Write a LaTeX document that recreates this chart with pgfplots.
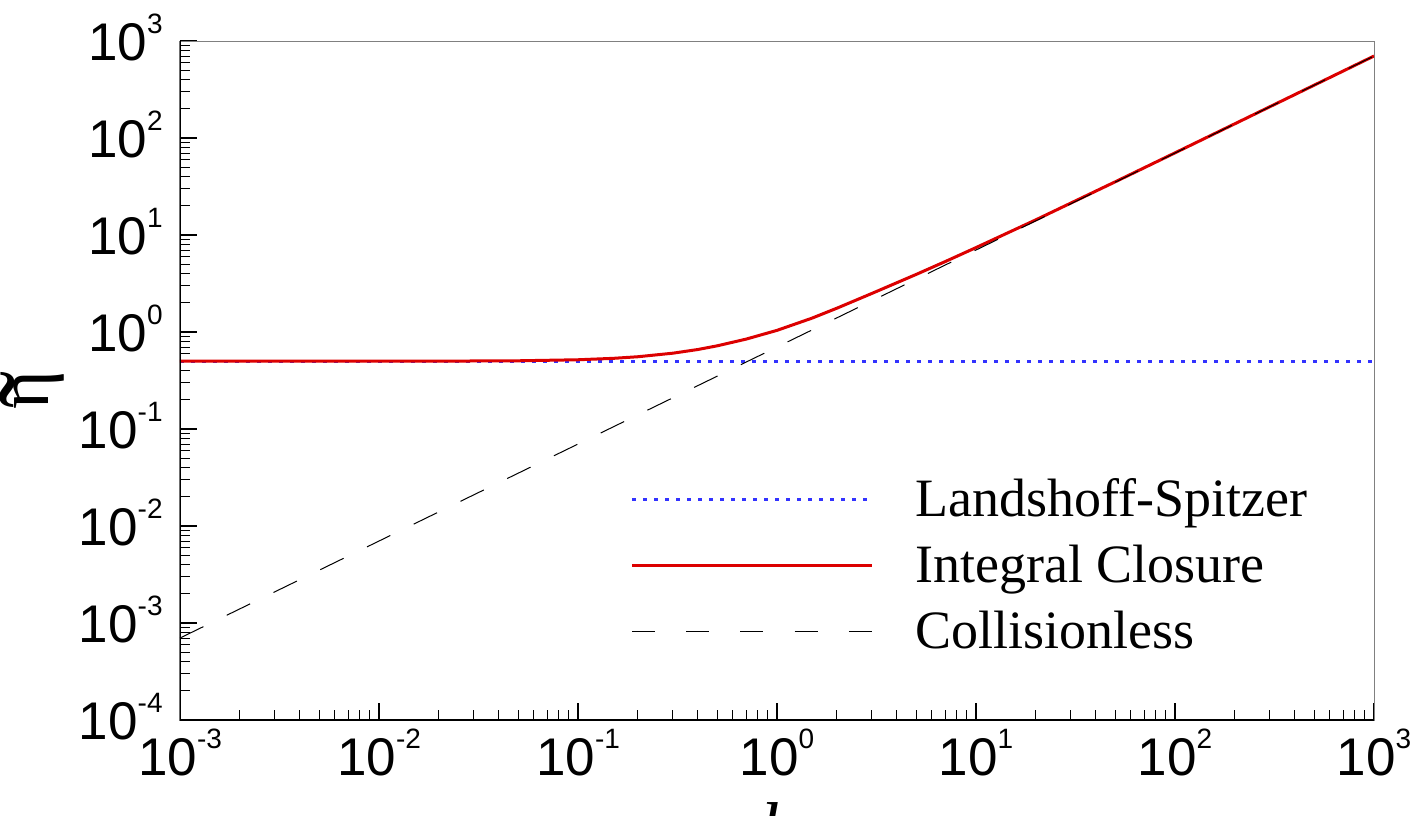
\documentclass[border=0pt]{standalone}
\usepackage{fontspec}
\usepackage{graphicx}
\setmainfont{Liberation Serif}
\newfontfamily\ticksf{Liberation Sans}
\usepackage{pgfplots}
\pgfplotsset{compat=1.18}
\definecolor{myred}{RGB}{220,0,0}
\definecolor{myblue}{RGB}{50,50,255}
\newcommand\tl[1]{{\ticksf\fontsize{26.5}{30}\selectfont 10\raisebox{13.5pt}{\fontsize{14}{16}\selectfont #1}}}
\newcommand\etatilde{\ooalign{η\cr\hidewidth\raisebox{-0.42em}{\scalebox{1.5}[1.6]{˜}}\hidewidth\cr}}
\begin{document}
\begin{tikzpicture}
\useasboundingbox (0,0) rectangle (708pt,407.5pt);
\begin{axis}[
  at={(90pt,47.5pt)}, anchor=south west,
  width=597pt, height=339.5pt, scale only axis,
  xmode=log, ymode=log,
  xmin=1e-3, xmax=1e3, ymin=1e-4, ymax=1e3,
  xtick={1e-3,1e-2,1e-1,1e0,1e1,1e2,1e3},
  xticklabels={\tl{-3},\tl{-2},\tl{-1},\tl{0},\tl{1},\tl{2},\tl{3}},
  ytick={1e-4,1e-3,1e-2,1e-1,1e0,1e1,1e2,1e3},
  yticklabels={\tl{-4},\tl{-3},\tl{-2},\tl{-1},\tl{0},\tl{1},\tl{2},\tl{3}},
  minor xtick={2e-3,3e-3,4e-3,5e-3,6e-3,7e-3,8e-3,9e-3,2e-2,3e-2,4e-2,5e-2,6e-2,7e-2,8e-2,9e-2,0.2,0.3,0.4,0.5,0.6,0.7,0.8,0.9,2,3,4,5,6,7,8,9,20,30,40,50,60,70,80,90,200,300,400,500,600,700,800,900},
  minor ytick={2e-4,3e-4,4e-4,5e-4,6e-4,7e-4,8e-4,9e-4,2e-3,3e-3,4e-3,5e-3,6e-3,7e-3,8e-3,9e-3,2e-2,3e-2,4e-2,5e-2,6e-2,7e-2,8e-2,9e-2,0.2,0.3,0.4,0.5,0.6,0.7,0.8,0.9,2,3,4,5,6,7,8,9,20,30,40,50,60,70,80,90,200,300,400,500,600,700,800,900},
  tick pos=left,
  tick align=inside,
  major tick length=8.5pt, minor tick length=5pt,
  every major tick/.append style={line width=1pt, black},
  every minor tick/.append style={line width=0.5pt, black},
  axis line style={line width=0.5pt, gray},
  xticklabel style={anchor=base, yshift=-27.5pt, inner sep=0pt},
  yticklabel style={anchor=base east, xshift=-8.5pt, yshift=-9.5pt, inner sep=0pt},
  xlabel={\itshape k},
  xlabel style={at={(axis description cs:0.5,0)}, anchor=north, yshift=-41pt, inner sep=0pt, font=\fontsize{36}{40}\selectfont},
  ylabel={\etatilde},
  ylabel style={at={(axis description cs:-0.112,0.486)}, anchor=center, inner sep=0pt, font=\fontsize{37}{40}\selectfont},
  legend image code/.code={\draw[#1] (0pt,0pt) -- (120pt,0pt);},
  legend cell align=left,
  legend style={draw=none, fill=none, at={(axis description cs:0.377,0.362)}, anchor=north west,
    inner sep=0pt, row sep=8pt, column sep=0pt,
    /tikz/every odd column/.append style={column sep=21pt},
    font=\fontsize{27}{30}\selectfont,
    nodes={inner sep=0pt, text height=21pt, text depth=4pt}},
]
\addplot[myblue, line width=1.5pt, dash pattern=on 2pt off 3.5pt] coordinates {(1e-3,0.5) (1e3,0.5)};
\addlegendentry{Landshoff-Spitzer}
\addplot[myred, line width=1.5pt] coordinates {
(0.001,0.5000) (0.003,0.5000) (0.01,0.5002) (0.02,0.5009) (0.05,0.505) (0.1,0.5175) (0.15,0.535) (0.2,0.556) (0.3,0.605) (0.4,0.66) (0.5,0.72) (0.7,0.845) (1.0,1.04) (1.5,1.39) (2,1.76) (3,2.50) (5,3.92) (7,5.32) (10,7.42) (20,14.35) (50,35.3) (100,70.3) (200,140.3) (500,350.3) (1000,700.3)};
\addlegendentry{Integral Closure}
\addplot[black, line width=0.5pt, dash pattern=on 13pt off 13pt,
  legend image code/.code={\draw[black, line width=0.5pt, dash pattern=on 11.5pt off 15.6pt] (0pt,0pt) -- (120pt,0pt);}]
  coordinates {(1e-3,7e-4) (1e3,700)};
\addlegendentry{Collisionless}
\draw[line width=1.5pt, black] (rel axis cs:0,1) -- (rel axis cs:0,0) -- (rel axis cs:1,0);
\end{axis}
\end{tikzpicture}
\end{document}
